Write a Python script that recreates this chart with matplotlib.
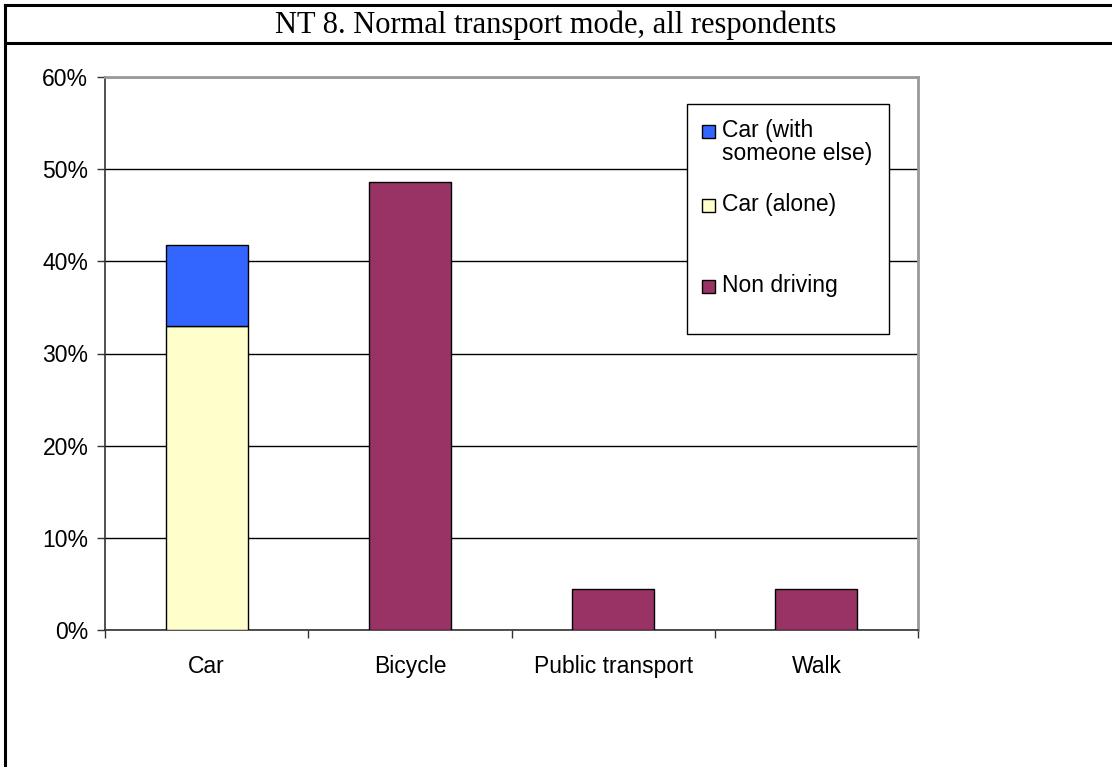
import numpy as np
import matplotlib.pyplot as plt
from matplotlib.patches import Rectangle
from matplotlib.lines import Line2D

# donnees (en %)
categories = ['Car', 'Bicycle', 'Public transport', 'Walk']
car_alone = [33.0, 0, 0, 0]
car_with_other = [8.8, 0, 0, 0]
non_driving = [0, 48.6, 4.5, 4.5]
yticks = [0, 10, 20, 30, 40, 50, 60]
legend_labels = ['Car (with\nsomeone else)', 'Car (alone)', 'Non driving']

title = 'NT 8. Normal transport mode, all respondents'

c_blue = '#3366FF'
c_yellow = '#FFFFCC'
c_maroon = '#993366'

W, H = 1112, 767
fig = plt.figure(figsize=(W / 100, H / 100), dpi=100)
fig.patch.set_facecolor('white')


def fx(px):
    return px / W


def fy(py):
    return 1 - py / H


# cadre du tableau
fig.add_artist(Line2D([fx(5), 1], [fy(5), fy(5)], color='black', lw=2.2))
fig.add_artist(Line2D([fx(5), 1], [fy(43), fy(43)], color='black', lw=2.2))
fig.add_artist(Line2D([fx(5), fx(5)], [fy(5), 0], color='black', lw=2.2))
fig.text(0.5, fy(25), title, ha='center', va='center',
         family='Liberation Serif', fontsize=22)

ax = fig.add_axes([fx(105), fy(630), fx(918) - fx(105), fy(77) - fy(630)])

x = np.arange(len(categories))
w = 0.404
ax.bar(x, car_alone, w, color=c_yellow, edgecolor='black', lw=1, zorder=3)
ax.bar(x, car_with_other, w, bottom=car_alone, color=c_blue, edgecolor='black', lw=1, zorder=3)
nd = np.array(non_driving)
ax.bar(x[nd > 0], nd[nd > 0], w, color=c_maroon, edgecolor='black', lw=1, zorder=3)

ax.set_xlim(-0.5, len(categories) - 0.5)
ax.set_ylim(0, 60)
ax.set_yticks(yticks)
ax.set_yticklabels([f'{v}%' for v in yticks], family='Liberation Sans', fontsize=16.5)
ax.set_xticks(x)
ax.set_xticklabels(categories, family='Liberation Sans', fontsize=16.5)
ax.set_xticks(np.arange(len(categories) + 1) - 0.5, minor=True)
ax.tick_params(axis='x', which='major', length=0, pad=18)
ax.tick_params(axis='x', which='minor', length=6, width=1, color='#333333')
ax.tick_params(axis='y', length=6, width=1, color='#333333', pad=6)

ax.grid(axis='y', color='black', lw=1, zorder=1)
for s in ['top', 'right']:
    ax.spines[s].set_color('#999999')
    ax.spines[s].set_linewidth(2)
for s in ['left', 'bottom']:
    ax.spines[s].set_color('#333333')
    ax.spines[s].set_linewidth(1.2)

# legende
fig.add_artist(Rectangle((fx(687), fy(334)), fx(889) - fx(687), fy(104) - fy(334),
                         facecolor='white', edgecolor='black', lw=1, zorder=5))
leg_colors = [c_blue, c_yellow, c_maroon]
leg_y = [131, 205, 286]
for col, lab, yy in zip(leg_colors, legend_labels, leg_y):
    fig.add_artist(Rectangle((fx(702), fy(yy + 6.5)), fx(13), 13 / H,
                             facecolor=col, edgecolor='black', lw=1, zorder=6))
    fig.text(fx(722), fy(yy - 12), lab, ha='left', va='top', family='Liberation Sans',
             fontsize=16.5, linespacing=1.0, zorder=6)

fig.savefig('out.png', dpi=100)
